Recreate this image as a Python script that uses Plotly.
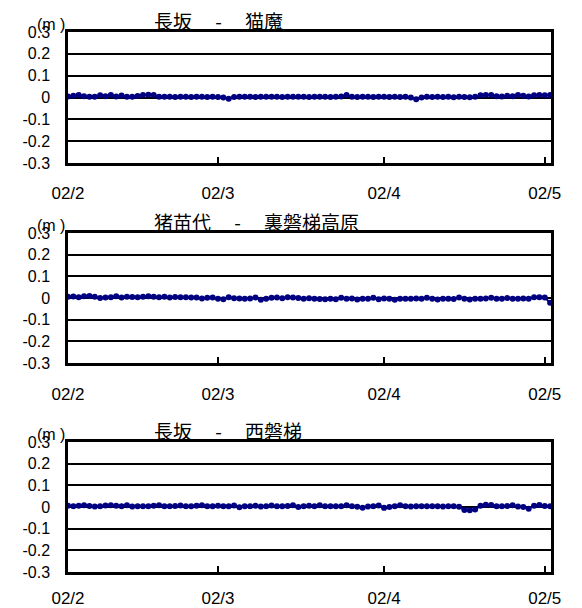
import plotly.graph_objects as go
import pandas as pd

dates = pd.date_range("2002-02-01", "2002-05-02", freq="D")

titles = ["長坂 　-　 猫魔", "猪苗代 　-　 裏磐梯高原", "長坂 　-　 西磐梯"]

s1 = [0.005, 0.008, 0.012, 0.006, 0.003, 0.004, 0.010, 0.006, 0.011, 0.005, 0.009, 0.004, 0.003, 0.007, 0.012, 0.013,
      0.012, 0.004, 0.003, 0.003, 0.002, 0.003, 0.003, 0.002, 0.003, 0.003, 0.002, 0.003, 0.002, 0.000,
      -0.006,
      0.002, 0.004, 0.003, 0.004, 0.002, 0.003, 0.003, 0.004, 0.003, 0.002, 0.003, 0.003, 0.004, 0.003, 0.002, 0.003, 0.004, 0.003, 0.002, 0.003, 0.005,
      0.012,
      0.003, 0.002, 0.003, 0.003, 0.002, 0.003, 0.003, 0.002, 0.003, 0.002, 0.003, 0.000,
      -0.008,
      0.000, 0.003, 0.002, 0.004, 0.002, 0.003, 0.001, 0.004, 0.002, 0.001, 0.004,
      0.010, 0.012, 0.011, 0.006, 0.005, 0.008, 0.006, 0.011, 0.008, 0.005, 0.010, 0.011, 0.010, 0.011]

s2 = [0.006, 0.007, 0.004, 0.008, 0.009, 0.006, 0.000, 0.002, 0.004, 0.008, 0.002, 0.006, 0.005, 0.004, 0.006, 0.008,
      0.006, 0.004, 0.006, 0.002, 0.005, 0.003, 0.004, 0.002, 0.002, -0.002, 0.001, 0.002, -0.004, -0.006, 0.003,
      -0.001, -0.002, -0.004, -0.002, 0.002, -0.008, -0.003, 0.001, 0.002, -0.001, 0.003, 0.002, 0.000, -0.003, -0.001,
      -0.003, -0.005, -0.006, -0.003, -0.006, 0.001, -0.004, -0.002, -0.007, -0.004, -0.003, 0.001, -0.006, -0.002, -0.004,
      -0.008, -0.004, -0.003, -0.004, -0.002, -0.004, 0.001, -0.004, -0.007, -0.004, -0.003, -0.005, 0.002, -0.004, -0.007,
      -0.004, -0.003, -0.002, 0.001, -0.004, -0.003, 0.000, -0.004, -0.003, -0.002, -0.004, 0.003, 0.004, 0.002, -0.022]

s3 = [0.006, 0.004, 0.006, 0.008, 0.005, 0.002, 0.004, 0.007, 0.008, 0.006, 0.004, 0.008, 0.002, 0.003, 0.004, 0.004,
      0.006, 0.008, 0.004, 0.004, 0.005, 0.007, 0.004, 0.003, 0.006, 0.008, 0.004, 0.003, 0.006, 0.004, 0.003,
      0.007, -0.001, 0.003, 0.004, 0.006, 0.002, 0.004, 0.007, 0.004, 0.003, 0.005, 0.008, 0.000, 0.004, 0.006,
      0.004, 0.008, 0.004, 0.004, 0.003, 0.004, 0.008, 0.004, 0.001, -0.003, 0.002, 0.004, 0.007, -0.004, 0.000,
      0.004, 0.008, 0.004, 0.002, 0.003, 0.004, 0.003, 0.004, 0.003, 0.002, 0.004, 0.004, 0.001, -0.014, -0.015,
      -0.012, 0.006, 0.010, 0.009, 0.004, 0.004, 0.005, 0.008, 0.002, 0.000, -0.008, 0.006, 0.009, 0.005, 0.003]

series = [s1, s2, s3]

y_vals = [0.3, 0.2, 0.1, 0, -0.1, -0.2, -0.3]
y_text = ["0.3", "0.2", "0.1", "0", "-0.1", "-0.2", "-0.3"]
x_vals = ["2002-02-01", "2002-03-01", "2002-04-01", "2002-05-01"]
x_text = ["02/2", "02/3", "02/4", "02/5"]
unit = "(m )"

W, H = 582, 608
left_px, right_px = 68, 551
panels_px = [(32, 163), (233, 363), (442, 572)]
standoffs = [13, 14, 9]

fig = go.Figure()
ytick_font = dict(family="Liberation Sans, Arial", size=16, color="black")
xtick_font = dict(family="Liberation Sans, Arial", size=17, color="black")
cjk_font = dict(family="Noto Sans CJK JP", size=19, color="black")

for i, (top, bot) in enumerate(panels_px):
    n = "" if i == 0 else str(i + 1)
    fig.add_trace(go.Scatter(
        x=dates, y=series[i], mode="lines+markers",
        line=dict(color="#000080", width=2),
        marker=dict(color="#000080", size=6),
        xaxis="x" + n, yaxis="y" + n, showlegend=False, cliponaxis=False,
        hoverinfo="skip"))
    ydom = [1 - bot / H, 1 - top / H]
    fig.layout["xaxis" + n] = dict(
        domain=[left_px / W, right_px / W], anchor="y" + n, type="date",
        range=["2002-02-01", "2002-05-02 04:00"],
        tickvals=x_vals, ticktext=x_text, ticks="inside", ticklen=6, tickwidth=1.5,
        tickcolor="black", showgrid=False, showline=True, linecolor="black",
        linewidth=2.5, mirror=True, tickfont=xtick_font, ticklabelstandoff=standoffs[i],
        zeroline=False, automargin=False)
    fig.layout["yaxis" + n] = dict(
        domain=ydom, anchor="x" + n, range=[-0.3, 0.3],
        tickvals=y_vals, ticktext=y_text, ticks="", showgrid=True,
        gridcolor="black", gridwidth=1.5, showline=True, linecolor="black",
        linewidth=2.5, mirror=True, zeroline=False, tickfont=ytick_font,
        ticklabelstandoff=12, automargin=False)
    fig.add_annotation(text=titles[i], xref="paper", yref="paper",
                       x=152 / W, y=1 - (top - 12) / H, xanchor="left", yanchor="middle",
                       showarrow=False, font=cjk_font)
    fig.add_annotation(text=unit, xref="paper", yref="paper",
                       x=35 / W, y=1 - (top - 8) / H, xanchor="left", yanchor="middle",
                       showarrow=False, font=dict(family="Liberation Sans, Arial", size=16, color="black"))

fig.update_layout(width=W, height=H, margin=dict(l=0, r=0, t=0, b=0),
                  paper_bgcolor="white", plot_bgcolor="white")
fig.write_html("out.html", config={"displayModeBar": False},
               post_script="document.body.style.margin='0';document.body.style.padding='0';")
